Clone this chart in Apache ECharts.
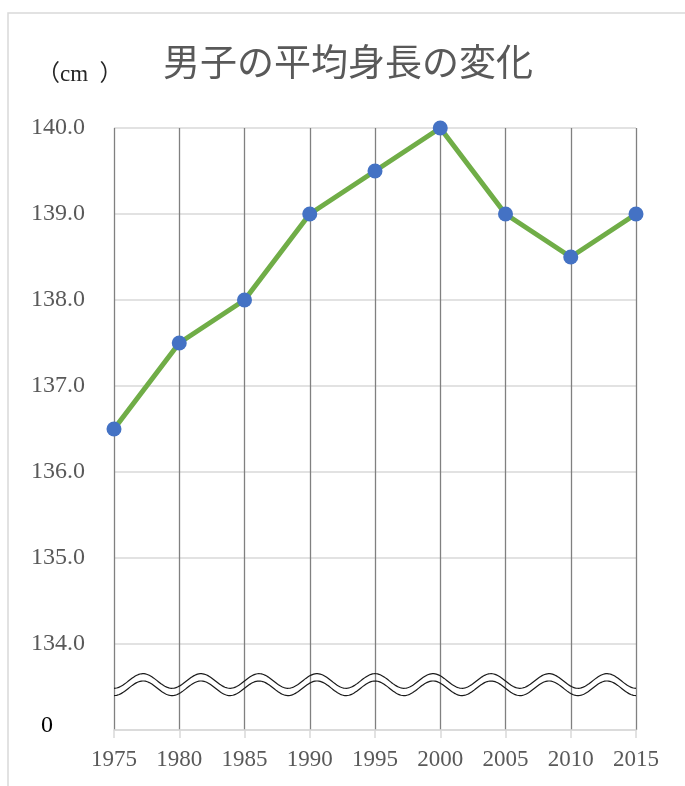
<!DOCTYPE html>
<html>
<head>
<meta charset="utf-8">
<script src="https://cdn.jsdelivr.net/npm/echarts@6/dist/echarts.min.js"></script>
<style>
html,body{margin:0;padding:0;background:#fff;}
#main{width:685px;height:786px;}
</style>
</head>
<body>
<div id="main"></div>
<script>
const titleText = '男子の平均身長の変化';
const unitText = '（cm  ）';
const years = ['1975','1980','1985','1990','1995','2000','2005','2010','2015'];
const heights = [136.5, 137.5, 138.0, 139.0, 139.5, 140.0, 139.0, 138.5, 139.0];
const yMin = 133, yMax = 140, yStep = 1;
const breakLabel = '0';
const breakCenters = [133.57, 133.485];
const breakAmp = 0.085;
const breakPeriods = 9;

const serif = '"Liberation Serif","DejaVu Serif","Noto Sans CJK JP",serif';
const chart = echarts.init(document.getElementById('main'));

chart.setOption({
  backgroundColor: '#fff',
  animation: false,
  graphic: [{
    type: 'rect', silent: true, z: -1,
    shape: {x: 8, y: 13, width: 720, height: 800},
    style: {fill: 'none', stroke: '#d9d9d9', lineWidth: 1.5}
  }, {
    type: 'text', left: 37, top: 63,
    style: {text: unitText, font: '23px ' + serif, fill: '#262626'}
  }],
  title: {
    text: titleText,
    left: 343, top: 43, textAlign: 'center',
    textStyle: {fontFamily: serif, fontSize: 37, fontWeight: 'normal', color: '#595959'}
  },
  grid: {left: 114, right: 49, top: 128, bottom: 56},
  xAxis: {
    type: 'category', data: years, boundaryGap: false,
    axisLine: {show: true, lineStyle: {color: '#d9d9d9', width: 1.5}},
    axisTick: {show: true, length: 8, lineStyle: {color: '#d9d9d9', width: 1.5}},
    splitLine: {show: true, lineStyle: {color: '#808080', width: 1.3}},
    axisLabel: {fontFamily: serif, fontSize: 23, color: '#595959', margin: 18}
  },
  yAxis: {
    type: 'value', min: yMin, max: yMax, interval: yStep,
    axisLine: {show: false}, axisTick: {show: false},
    splitLine: {lineStyle: {color: '#d9d9d9', width: 1.5}},
    axisLabel: {
      fontFamily: serif, fontSize: 24, color: '#595959', margin: 29,
      formatter: v => v === yMin ? '{z|' + breakLabel + '}' : v.toFixed(1),
      rich: {z: {fontFamily: serif, fontSize: 24, color: '#000', padding: [0, 32, 8, 0]}}
    }
  },
  series: [{
    type: 'line', data: heights,
    lineStyle: {color: '#70ad47', width: 5},
    itemStyle: {color: '#4472c4'},
    symbol: 'circle', symbolSize: 15, z: 5
  }, {
    type: 'custom', silent: true, z: 3,
    data: [[0, breakCenters[0]]],
    renderItem: function (params, api) {
      const children = breakCenters.map(c => {
        const p0 = api.coord([0, c]);
        const p1 = api.coord([years.length - 1, c]);
        const a = api.coord([0, c])[1] - api.coord([0, c + breakAmp])[1];
        const pts = [];
        const n = 400;
        for (let i = 0; i <= n; i++) {
          const t = i / n;
          pts.push([p0[0] + (p1[0] - p0[0]) * t, p0[1] + a * Math.cos(2 * Math.PI * breakPeriods * t)]);
        }
        return {type: 'polyline', shape: {points: pts}, style: {stroke: '#1a1a1a', lineWidth: 1.2, fill: 'none'}};
      });
      return {type: 'group', children: children};
    }
  }]
});
</script>
</body>
</html>
